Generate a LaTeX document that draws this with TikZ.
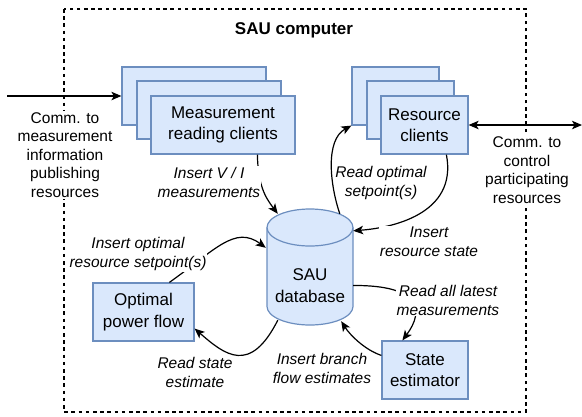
\documentclass[tikz,border=0pt]{standalone}
\usepackage{fontspec}
\setmainfont{Liberation Sans}
\usetikzlibrary{arrows.meta,calc}
\definecolor{boxfill}{HTML}{DAE8FC}
\definecolor{boxline}{HTML}{6C8EBF}
\tikzset{
  unitbox/.style={draw=boxline,fill=boxfill,line width=1.2pt,align=center,
    font=\fontsize{17}{21.5}\selectfont,inner sep=0pt,minimum height=58pt},
  edgelabel/.style={align=center,font=\fontsize{15.5}{19}\selectfont\itshape,inner sep=1pt},
  sidetext/.style={align=center,font=\fontsize{15.5}{18.6}\selectfont,inner sep=1pt,fill=white},
  link/.style={line width=1.2pt,-{Stealth[length=10pt,width=8.5pt,inset=2.5pt]}},
  bilink/.style={line width=1.2pt,{Stealth[length=10pt,width=8.5pt,inset=2.5pt]}-{Stealth[length=10pt,width=8.5pt,inset=2.5pt]}},
}
\begin{document}
\begin{tikzpicture}[x=1pt,y=-1pt]
\useasboundingbox (0,0) rectangle (582,416);

% SAU computer boundary
\draw[line width=1.2pt,dash pattern=on 3.6pt off 3.6pt] (64,9) rectangle (526,412);
\node[font=\fontsize{17}{20}\selectfont\bfseries] (title) at (294,30) {SAU computer};

% measurement reading clients (stack)
\node[unitbox,minimum width=144pt] (mc3) at (194,96) {};
\node[unitbox,minimum width=144pt] (mc2) at (209,110) {};
\node[unitbox,minimum width=144pt] (mc1) at (223,125) {Measurement\\reading clients};

% resource clients (stack)
\node[unitbox,minimum width=87pt] (rc3) at (395.5,96) {};
\node[unitbox,minimum width=87pt] (rc2) at (410.5,110) {};
\node[unitbox,minimum width=87pt] (rc1) at (424.5,125) {Resource\\clients};

% optimal power flow and state estimator
\node[unitbox,minimum width=101pt] (opf) at (143.5,312) {Optimal\\power flow};
\node[unitbox,minimum width=86pt] (se) at (425,370) {State\\estimator};

% SAU database cylinder
\draw[draw=boxline,fill=boxfill,line width=1.2pt]
  (267,227.5) -- (267,306.5)
  arc[start angle=180,end angle=360,x radius=43pt,y radius=18.5pt]
  -- (353,227.5)
  arc[start angle=0,end angle=180,x radius=43pt,y radius=18.5pt] -- cycle;
\draw[draw=boxline,line width=1.2pt]
  (267,227.5) arc[start angle=180,end angle=360,x radius=43pt,y radius=18.5pt];
\node[align=center,font=\fontsize{17}{21.5}\selectfont,inner sep=0pt,
  minimum width=86pt,minimum height=79pt] (db) at (310,285.5) {SAU\\database};

% external communication
\coordinate (extin) at (7,96);
\coordinate (extout) at (582,125);
\draw[link] (extin) -- (mc3.west);
\draw[bilink] (rc1.east) -- (extout);
\node[sidetext] (commin) at (65,155) {Comm. to\\measurement\\information\\publishing\\resources};
\node[sidetext] (commout) at (527,170) {Comm. to\\control\\participating\\resources};

% data flows to and from the database
\draw[link] ($(mc1.south west)+(107,0)$) .. controls (258,185) and (265,197) .. ($(db.north west)+(11,-32)$);
\draw[link] ($(db.north west)+(73,-32)$) .. controls (330,185) and (325,140) .. (rc3.south west);
\draw[link] ($(rc1.south west)+(66,0)$) .. controls (458,215) and (390,228) .. ($(db.north east)+(0,-15)$);
\draw[link] ($(opf.north west)+(77,0)$) .. controls (215,250) and (235,225) .. ($(db.north west)+(-1,2)$);
\draw[link] ($(db.south west)+(11,-5)$) .. controls (250,375) and (225,355) .. ($(opf.south east)+(0,-13)$);
\draw[link] (db.east) .. controls (420,285) and (425,310) .. ($(se.north west)+(21,0)$);
\draw[link] ($(se.north west)+(0,15)$) .. controls (365,350) and (350,335) .. ($(db.south east)+(-12,-4)$);

% flow labels
\node[edgelabel,fill=white] (l1) at (209,182) {Insert V / I\\measurements};
\node[edgelabel] (l2) at (381,183) {Read optimal\\setpoint(s)};
\node[edgelabel,fill=white] (l3) at (429,242) {Insert\\resource state};
\node[edgelabel,fill=white] (l4) at (138,254) {Insert optimal\\resource setpoint(s)};
\node[edgelabel] (l5) at (195,372) {Read state\\estimate};
\node[edgelabel,fill=white] (l6) at (448,300) {Read all latest\\measurements};
\node[edgelabel] (l7) at (322,368) {Insert branch\\flow estimates};
\end{tikzpicture}
\end{document}
